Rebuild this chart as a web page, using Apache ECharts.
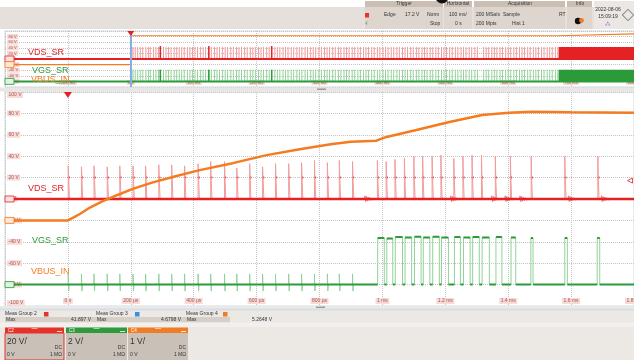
<!DOCTYPE html>
<html>
<head>
<meta charset="utf-8">
<script src="https://cdn.jsdelivr.net/npm/echarts@6/dist/echarts.min.js"></script>
<style>
  html, body { margin: 0; padding: 0; background: #fff; overflow: hidden; }
  #chart { width: 634px; height: 360px; }
</style>
</head>
<body>
<div id="chart"></div>
<script>
// ---- zoomed acquisition (main view), time in µs, values in screen volts ----
// VDS_SR switching spikes
const vdsPulseT = [1, 43, 83, 125, 165, 207, 247, 289, 330, 371, 414, 454, 498, 537, 578, 619, 660, 702, 743, 784,
  825, 863, 905, 984, 1012, 1040, 1070, 1100, 1128, 1158, 1186, 1227, 1256, 1285, 1315, 1359, 1407, 1473, 1580, 1685]
const vdsPulseV = [31, 30, 31, 30, 31, 31, 31, 32, 32, 31, 33, 35, 35, 29, 33, 30, 33, 33, 34, 36,
  34, 36, 35, 36, 35, 37, 38, 40, 40, 40, 41, 38, 40, 41, 41, 40, 40, 40, 40, 40]
const vdsDotV = 20
// ringing bursts on VDS_SR
const ringAt = [943, 1216, 1346, 1389, 1436, 1590, 1695]
const ringShapeT = [0, 1.5, 4, 6.5, 9, 12, 15, 18, 22, 26, 30, 35]
const ringShapeV = [0, 3, -2.5, 2.5, -2, 1.8, -1.5, 1.2, -0.9, 0.6, -0.4, 0]
// VGS_SR gate pulses
const vgsRise = [985, 1014, 1041, 1072, 1102, 1130, 1160, 1188, 1229, 1258, 1287, 1317, 1361, 1409, 1472, 1580, 1683]
const vgsFall = [1006, 1033, 1064, 1093, 1123, 1151, 1181, 1210, 1248, 1279, 1308, 1340, 1380, 1424, 1479, 1588, 1691]
const vgsHighV = [-36.5, -37, -35.5, -36, -35.2, -36, -35.2, -36, -35.5, -36, -35.5, -36, -35.5, -36, -36.5, -36.5, -36.5]
const vgsBlipV = [10, -6]
// VBUS_IN rise
const vbusT = [-200, 0, 20, 38, 70, 111, 160, 206, 270, 333, 419, 524, 632, 737, 841, 900, 981, 1013, 1108, 1213, 1317, 1403, 1476, 1600, 1800]
const vbusV = [-20, -20, -17, -14, -8, -2, 4, 9.5, 15.5, 20.5, 27, 33.5, 41, 46.5, 51.5, 53.5, 54.5, 58, 64.5, 72, 78.5, 80.5, 81.5, 81, 80.5]
// channel offsets
const vdsOff = 0, vbusOff = -20, vgsOff = -80
const trigLevel = 17.2

// ---- overview record, time in ms ----
const ovBurstT = [1.5, 3.5, 7, 11, 15, 19, 24, 28, 31, 36, 40, 44, 47, 52, 56, 60, 64, 69, 73, 77, 81, 85, 90, 94, 98,
  102, 106, 111, 115, 119, 124, 128, 133, 137, 141, 146, 150, 154, 159, 163, 168, 172, 176, 181, 185, 190, 194, 198,
  203, 207, 211, 216, 220, 224, 229, 233, 237, 242, 246, 250, 255, 259, 264, 268, 272, 277, 281, 286, 290, 294, 299,
  303, 308, 312, 316, 321, 325, 330, 334, 339, 343, 347, 352, 356, 361, 365, 370, 374, 378, 383, 387, 392, 396, 401,
  405, 409, 414, 418, 423, 427, 432, 436, 440, 445, 449, 454, 458, 463, 467, 471, 476, 480, 485, 489, 494, 498, 502,
  507, 511, 516, 520, 525, 529, 533, 538, 542, 547, 551, 561, 565, 569, 574, 578, 582, 587, 591, 596, 600, 604, 609,
  613, 618, 622, 626, 631, 635, 640, 644, 648, 653, 657, 662, 666, 670, 675, 679]
const ovStrongT = [47, 124, 224]
const ovSolidFrom = 680
const ovRedTop = 43
const ovGreenTop = -38
const ovVbusT = [-200, 0, 0.5, 680, 681, 800]
const ovVbusV = [-20, -20, 83, 83, 90, 90]

const RED = '#e42226', PINK = '#f29b9b', GREEN = '#2b9b39', LGREEN = '#92d298', ORANGE = '#f47b20'
const FONT = '"Liberation Sans", Arial, sans-serif'

// ---- build traces ----
const vdsSpike = []
vdsPulseT.forEach((t, i) => {
  vdsSpike.push([t, vdsOff], [t, vdsPulseV[i]], [t + 1.5, vdsDotV], [t + 4, vdsDotV], [t + 4, vdsOff], [t + 4, null])
})
const vdsRing = []
ringAt.forEach(t => {
  ringShapeT.forEach((d, j) => vdsRing.push([t + d, vdsOff + ringShapeV[j]]))
  vdsRing.push([t + 35, null])
})
const vdsBase = [[-200, vdsOff], [1800, vdsOff]]
const vdsDots = vdsPulseT.map(t => [t + 2, vdsDotV])

const vgsEdge = []
vdsPulseT.filter(t => t < 950).forEach(t => {
  vgsEdge.push([t, vgsOff], [t, vgsOff + vgsBlipV[0]], [t + 1.5, vgsOff + vgsBlipV[1]], [t + 3, vgsOff], [t + 3, null])
})
vgsRise.forEach((r, i) => {
  vgsEdge.push([r, vgsOff], [r, vgsHighV[i]], [vgsFall[i], vgsHighV[i]], [vgsFall[i], vgsOff], [vgsFall[i], null])
})
const vgsLevel = [[-200, vgsOff]]
vgsRise.forEach((r, i) => {
  vgsLevel.push([r, vgsOff], [r, null], [r, vgsHighV[i]], [vgsFall[i], vgsHighV[i]], [vgsFall[i], null], [vgsFall[i], vgsOff])
})
vgsLevel.push([1800, vgsOff])
const vbus = vbusT.map((t, i) => [t, vbusV[i]])

const ovRed = [], ovGreen = [], ovRedStrong = [], ovGreenStrong = []
ovBurstT.forEach(t => {
  ovRed.push([t, vdsOff], [t, ovRedTop], [t, null])
  ovGreen.push([t, vgsOff], [t, ovGreenTop], [t, null])
})
ovStrongT.forEach(t => {
  ovRedStrong.push([t, vdsOff], [t, ovRedTop + 3], [t, null])
  ovGreenStrong.push([t, vgsOff], [t, ovGreenTop], [t, null])
})
const ovVbus = ovVbusT.map((t, i) => [t, ovVbusV[i]])

// ---- axes ----
const lblStyle = (size) => ({
  inside: true, fontSize: size, color: '#b4504c', backgroundColor: '#f5dcd8',
  padding: [0.5, 1.5], margin: 2, fontFamily: FONT
})
const splitDots = { show: true, lineStyle: { color: '#c4c4c4', type: 'dotted', width: 1 } }
const usFmt = v => v === -200 ? '' : v === 0 ? '0 s' : (v < 1000 ? v + ' µs' : (v / 1000) + ' ms')
const msFmt = v => v === -200 ? '' : v === 0 ? '0 s' : v + ' ms'

function chanMarker (y, color, fill, x) {
  return {
    coord: [x, y], symbol: 'rect', symbolSize: [9, 6], symbolOffset: [4.5, 0],
    itemStyle: { color: fill, borderColor: color, borderWidth: 0.8 }, label: { show: false }
  }
}
function trigMarker (x, y, size) {
  return {
    coord: [x, y], symbol: 'triangle', symbolRotate: 180, symbolSize: size, symbolOffset: [0, size[1] / 2],
    itemStyle: { color: RED }, label: { show: false }
  }
}

function txt (x, y, s, size, fill, align, extra) {
  return Object.assign({
    type: 'text', x, y, z: 100,
    style: { text: s, font: size + 'px ' + FONT, fill, align: align || 'left', textAlign: align || 'left', verticalAlign: 'middle', textVerticalAlign: 'middle' }
  }, extra || {})
}
function rect (x, y, w, h, fill, extra) {
  return Object.assign({ type: 'rect', shape: { x, y, width: w, height: h }, style: { fill }, z: 1 }, extra || {})
}

const graphics = [
  // top bar
  rect(0, 7, 634, 22, '#e5e0db'),
  rect(365, 1, 78, 28, '#ddd5ce'), rect(365, 1, 78, 6, '#cbbfb4'),
  rect(444, 1, 28, 28, '#ddd5ce'), rect(444, 1, 28, 6, '#cbbfb4'),
  rect(474, 1, 91, 28, '#ddd5ce'), rect(474, 1, 91, 6, '#cbbfb4'),
  rect(567, 1, 25, 28, '#ddd5ce'), rect(567, 1, 25, 6, '#cbbfb4'),
  rect(594, 1, 40, 28, '#ebe7e3'),
  { type: 'sector', shape: { cx: 442, cy: -3, r: 6.5, r0: 2.8, startAngle: 0, endAngle: Math.PI }, style: { fill: '#111' }, z: 5 },
  txt(404, 4, 'Trigger', 5, '#333', 'center'),
  txt(458, 4, 'Horizontal', 5, '#333', 'center'),
  txt(520, 4, 'Acquisition', 5, '#333', 'center'),
  txt(580, 4, 'Info', 5, '#333', 'center'),
  rect(365, 13, 4, 4.5, '#e8332a', { z: 5 }),
  txt(365, 24, 'ꟻ', 5, '#777'),
  txt(384, 15, 'Edge', 5, '#333'),
  txt(405, 15, '17.2 V', 5, '#333'),
  txt(427, 15, 'Norm', 5, '#333'),
  txt(430, 24, 'Stop', 5, '#333'),
  txt(449, 15, '100 ms/', 5, '#333'),
  txt(455, 24, '0 s', 5, '#333'),
  txt(476, 15, '200 MSa/s', 5, '#333'),
  txt(476, 24, '200 Mpts', 5, '#333'),
  txt(503, 15, 'Sample', 5, '#333'),
  txt(512, 24, 'Hist 1', 5, '#333'),
  txt(559, 15, 'RT', 5, '#333'),
  { type: 'circle', shape: { cx: 578, cy: 21, r: 3.2 }, style: { fill: '#111' }, z: 5 },
  { type: 'circle', shape: { cx: 581.5, cy: 20.5, r: 2.4 }, style: { fill: '#f07c23' }, z: 6 },
  txt(608, 10, '2022-08-06', 5, '#333', 'center'),
  txt(608, 17, '15:09:19', 5, '#333', 'center'),
  txt(608, 24, '⁂', 5, '#9a5fc7', 'center'),
  { type: 'rect', shape: { x: -4, y: -4, width: 8, height: 8 }, x: 628, y: 15, rotation: Math.PI / 4, style: { fill: 'none', stroke: '#888', lineWidth: 1 }, z: 5 },
  // separator between overview and main
  rect(0, 87.5, 634, 4, '#e9e6e3'),
  rect(317, 88.5, 9, 1.5, '#9a9a9a', { z: 5 }),
  // bottom panel
  rect(0, 306, 634, 54, '#ece9e5'),
  rect(316, 306.5, 9, 1.5, '#9a9a9a', { z: 5 }),
  rect(0, 308.5, 634, 2, '#d5dfe8'),
  rect(5, 317, 225, 5.5, '#d6cfc8'),
  rect(0, 322.5, 634, 4.5, '#f2f0ee'),
  txt(5, 314, 'Meas Group 2', 5, '#333'),
  rect(44, 312, 4.5, 4.5, '#e8332a', { z: 5 }),
  txt(96, 314, 'Meas Group 3', 5, '#333'),
  rect(135, 312, 4.5, 4.5, '#3b8fe2', { z: 5 }),
  txt(186, 314, 'Meas Group 4', 5, '#333'),
  rect(223, 312, 4.5, 4.5, '#f07c23', { z: 5 }),
  txt(6, 319.8, 'Max', 5, '#333'),
  txt(91, 319.8, '41.897 V', 5, '#333', 'right'),
  txt(97, 319.8, 'Max', 5, '#333'),
  txt(181, 319.8, '4.6798 V', 5, '#333', 'right'),
  txt(187, 319.8, 'Max', 5, '#333'),
  txt(272, 319.8, '5.2648 V', 5, '#333', 'right')
]
const chans = [
  { x: 5, w: 59, head: '#e6322b', name: 'C2', scale: '20 V/' },
  { x: 66, w: 61, head: '#2e9b3b', name: 'C3', scale: '2 V/' },
  { x: 128, w: 60, head: '#f07c23', name: 'C4', scale: '1 V/' }
]
chans.forEach((c, i) => {
  graphics.push(
    rect(c.x, 333, c.w, 27, '#c9c0b8', i === 0 ? { style: { fill: '#c9c0b8', stroke: '#e6322b', lineWidth: 1 } } : {}),
    rect(c.x, 327.5, c.w, 5.5, c.head, { z: 2 }),
    rect(c.x + c.w / 2 - 3, 328, 6, 0.8, 'rgba(255,255,255,0.7)', { z: 3 }),
    rect(c.x + c.w - 7, 331, 5, 1, 'rgba(255,255,255,0.8)', { z: 3 }),
    txt(c.x + 3, 330.3, c.name, 4.5, '#fff'),
    txt(c.x + 2, 341.5, c.scale, 8.5, '#333'),
    txt(c.x + c.w - 2, 348, 'DC', 5, '#333', 'right'),
    txt(c.x + 2, 355, '0 V', 5, '#333'),
    txt(c.x + c.w - 2, 355, '1 MΩ', 5, '#333', 'right')
  )
})
// trace names
graphics.push(
  txt(28, 53, 'VDS_SR', 9, RED), txt(32, 70.5, 'VGS_SR', 9, GREEN), txt(31, 79.5, 'VBUS_IN', 9, ORANGE),
  txt(28, 188.5, 'VDS_SR', 9, RED), txt(32, 240.5, 'VGS_SR', 9, GREEN), txt(31, 271.5, 'VBUS_IN', 9, ORANGE)
)

const chart = echarts.init(document.getElementById('chart'))
const line = (data, color, width, xi, extra) => Object.assign({
  type: 'line', data, xAxisIndex: xi, yAxisIndex: xi, showSymbol: false, symbol: 'none',
  connectNulls: false, silent: true, animation: false,
  lineStyle: { color, width }, itemStyle: { color }
}, extra || {})

chart.setOption({
  animation: false,
  backgroundColor: '#fff',
  grid: [
    { left: 5, top: 31, width: 629, height: 56, show: true, backgroundColor: '#fff', borderColor: '#cfd8e1', borderWidth: 1,
      containLabel: false, outerBoundsMode: 'none' },
    { left: 5, top: 92, width: 629, height: 214, show: true, backgroundColor: '#fff', borderColor: '#cfd8e1', borderWidth: 1,
      containLabel: false, outerBoundsMode: 'none' }
  ],
  xAxis: [
    { gridIndex: 0, type: 'value', min: -200, max: 800, interval: 100, axisLine: { show: false }, axisTick: { show: false },
      splitLine: splitDots, axisLabel: Object.assign(lblStyle(4), { formatter: msFmt, showMinLabel: true, showMaxLabel: true, hideOverlap: false }) },
    { gridIndex: 1, type: 'value', min: -200, max: 1800, interval: 200, axisLine: { show: false }, axisTick: { show: false },
      splitLine: splitDots, axisLabel: Object.assign(lblStyle(5), { formatter: usFmt, showMinLabel: true, showMaxLabel: true, hideOverlap: false }) }
  ],
  yAxis: [
    { gridIndex: 0, type: 'value', min: -100, max: 100, interval: 20, axisLine: { show: false }, axisTick: { show: false },
      splitLine: splitDots, axisLabel: Object.assign(lblStyle(4), { formatter: v => v + ' V', verticalAlignMaxLabel: 'top', verticalAlignMinLabel: 'bottom' }) },
    { gridIndex: 1, type: 'value', min: -100, max: 100, interval: 20, axisLine: { show: false }, axisTick: { show: false },
      splitLine: splitDots, axisLabel: Object.assign(lblStyle(5), { formatter: v => v + ' V', verticalAlignMaxLabel: 'top', verticalAlignMinLabel: 'bottom' }) }
  ],
  graphic: { elements: graphics },
  series: [
    // overview
    line(ovRed, PINK, 1, 0, {
      markArea: { silent: true, itemStyle: { color: RED },
        data: [[{ xAxis: ovSolidFrom, yAxis: vdsOff }, { xAxis: 800, yAxis: ovRedTop }]] }
    }),
    line(ovRedStrong, RED, 1.5, 0),
    line(ovGreen, LGREEN, 1, 0, {
      markArea: { silent: true, itemStyle: { color: GREEN },
        data: [[{ xAxis: ovSolidFrom, yAxis: vgsOff }, { xAxis: 800, yAxis: ovGreenTop }]] }
    }),
    line(ovGreenStrong, GREEN, 1.5, 0),
    line([[-200, vdsOff], [800, vdsOff]], RED, 2, 0, {
      markPoint: { silent: true, data: [trigMarker(0, 100, [7, 5]), chanMarker(vdsOff, RED, '#fbe0e0', -200)] }
    }),
    line([[-200, vgsOff], [800, vgsOff]], GREEN, 2, 0, {
      markPoint: { silent: true, data: [chanMarker(vgsOff, GREEN, '#dff3e1', -200)] }
    }),
    line(ovVbus, ORANGE, 1.2, 0, {
      markPoint: { silent: true, data: [chanMarker(vbusOff, ORANGE, '#fde8d8', -200)] },
      markLine: { silent: true, symbol: 'none', label: { show: false }, lineStyle: { color: '#86aee0', width: 2, type: 'solid' },
        data: [{ xAxis: 0 }] }
    }),
    // main view
    line(vgsEdge, LGREEN, 1, 1),
    line(vgsLevel, GREEN, 2, 1, {
      markPoint: { silent: true, data: [chanMarker(vgsOff, GREEN, '#dff3e1', -200)] }
    }),
    line(vdsSpike, PINK, 1, 1),
    line(vdsRing, '#ec6a6a', 0.8, 1),
    line(vdsBase, RED, 2.5, 1, {
      markPoint: { silent: true, data: [
        trigMarker(0, 100, [8, 6]), chanMarker(vdsOff, RED, '#fbe0e0', -200),
        { coord: [1800, trigLevel], symbol: 'triangle', symbolRotate: 90, symbolSize: [5, 5], symbolOffset: [-4, 0],
          itemStyle: { color: '#fff', borderColor: RED, borderWidth: 0.8 }, label: { show: false } }
      ] }
    }),
    { type: 'scatter', xAxisIndex: 1, yAxisIndex: 1, data: vdsDots, symbolSize: 2.5, itemStyle: { color: RED }, silent: true },
    line(vbus, ORANGE, 2.5, 1, {
      markPoint: { silent: true, data: [chanMarker(vbusOff, ORANGE, '#fde8d8', -200)] }
    })
  ]
})
</script>
</body>
</html>
